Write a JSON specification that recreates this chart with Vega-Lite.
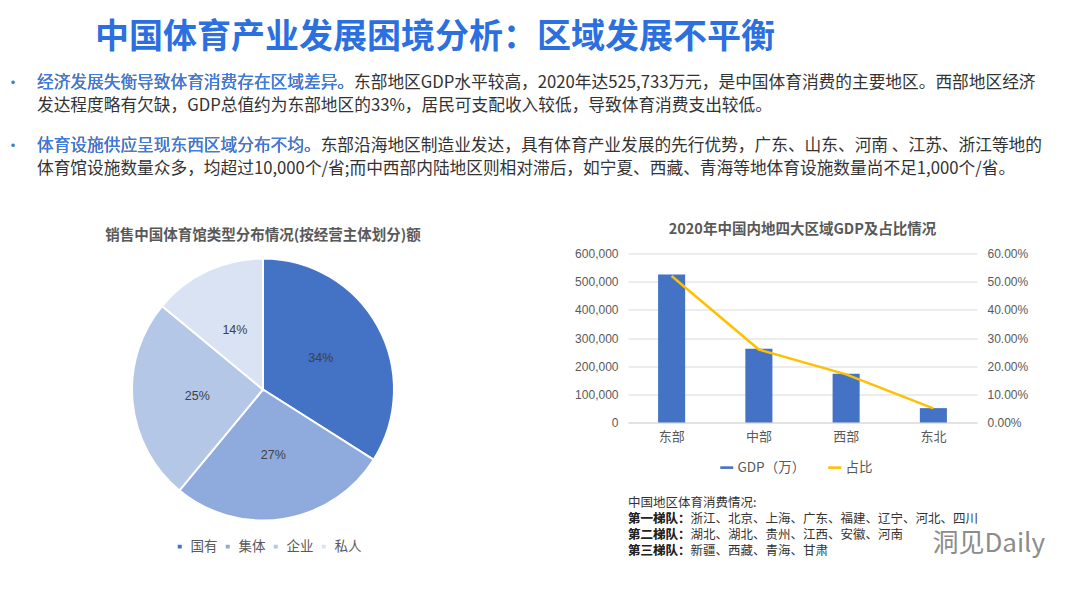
{
  "$schema": "https://vega.github.io/schema/vega-lite/v6.json",
  "background": "white",
  "padding": {"left": 5, "top": 21, "right": 5, "bottom": 5},
  "config": {
    "view": {"stroke": null},
    "font": "Noto Sans CJK SC",
    "axis": {"labelFont": "Liberation Sans", "labelColor": "#595959", "labelFontSize": 12},
    "legend": {"labelFont": "Noto Sans CJK SC", "labelColor": "#595959"}
  },
  "title": {"text": "中国体育产业发展困境分析：区域发展不平衡", "anchor": "start", "dx": 90, "fontSize": 34, "fontWeight": "bold", "color": "#2b6fe0", "font": "Noto Sans CJK SC", "offset": 16},
  "spacing": 41.5,
  "vconcat": [
    {
      "spacing": 17,
      "data": {"values": [
        {"para": 1, "line": 1, "bullet": "•", "lead": "经济发展失衡导致体育消费存在区域差异。", "text": "经济发展失衡导致体育消费存在区域差异。东部地区GDP水平较高，2020年达525,733万元，是中国体育消费的主要地区。西部地区经济"},
        {"para": 1, "line": 2, "bullet": "", "lead": "", "text": "发达程度略有欠缺，GDP总值约为东部地区的33%，居民可支配收入较低，导致体育消费支出较低。"},
        {"para": 2, "line": 1, "bullet": "•", "lead": "体育设施供应呈现东西区域分布不均。", "text": "体育设施供应呈现东西区域分布不均。东部沿海地区制造业发达，具有体育产业发展的先行优势，广东、山东、河南 、江苏、浙江等地的"},
        {"para": 2, "line": 2, "bullet": "", "lead": "", "text": "体育馆设施数量众多，均超过10,000个/省;而中西部内陆地区则相对滞后，如宁夏、西藏、青海等地体育设施数量尚不足1,000个/省。"}
      ]},
      "vconcat": [
        {
          "width": 1065,
          "height": 46,
          "transform": [{"filter": "datum.para == 1"}],
          "encoding": {
            "x": {"datum": 0, "type": "quantitative", "scale": {"domain": [0, 1], "nice": false, "zero": false}, "axis": null},
            "y": {"field": "line", "type": "ordinal", "axis": null, "scale": {"type": "band", "paddingInner": 0, "paddingOuter": 0}}
          },
          "layer": [
            {"mark": {"type": "text", "align": "left", "baseline": "middle", "dx": 32, "fontSize": 16.7, "color": "#333333"}, "encoding": {"text": {"field": "text"}}},
            {"mark": {"type": "text", "align": "left", "baseline": "middle", "dx": 32, "fontSize": 16.7, "color": "#3d7ee6"}, "encoding": {"text": {"field": "lead"}}},
            {"mark": {"type": "text", "align": "left", "baseline": "middle", "fontSize": 16, "color": "#4a78c0"}, "encoding": {"text": {"field": "bullet"}}}
          ]
        },
        {
          "width": 1065,
          "height": 46,
          "transform": [{"filter": "datum.para == 2"}],
          "encoding": {
            "x": {"datum": 0, "type": "quantitative", "scale": {"domain": [0, 1], "nice": false, "zero": false}, "axis": null},
            "y": {"field": "line", "type": "ordinal", "axis": null, "scale": {"type": "band", "paddingInner": 0, "paddingOuter": 0}}
          },
          "layer": [
            {"mark": {"type": "text", "align": "left", "baseline": "middle", "dx": 32, "fontSize": 16.7, "color": "#333333"}, "encoding": {"text": {"field": "text"}}},
            {"mark": {"type": "text", "align": "left", "baseline": "middle", "dx": 32, "fontSize": 16.7, "color": "#3d7ee6"}, "encoding": {"text": {"field": "lead"}}},
            {"mark": {"type": "text", "align": "left", "baseline": "middle", "fontSize": 16, "color": "#4a78c0"}, "encoding": {"text": {"field": "bullet"}}}
          ]
        }
      ]
    },
    {
      "spacing": 53,
      "resolve": {"scale": {"color": "independent"}, "legend": {"color": "independent"}},
      "hconcat": [
        {
          "width": 516,
          "height": 272,
          "title": {"text": "销售中国体育馆类型分布情况(按经营主体划分)额", "fontSize": 14.5, "fontWeight": "bold", "color": "#595959", "offset": 10},
          "data": {"values": [
            {"type": "国有", "share": 0.34, "order": 1},
            {"type": "集体", "share": 0.27, "order": 2},
            {"type": "企业", "share": 0.25, "order": 3},
            {"type": "私人", "share": 0.14, "order": 4}
          ]},
          "encoding": {
            "theta": {"field": "share", "type": "quantitative", "stack": true},
            "order": {"field": "order", "type": "quantitative"},
            "color": {
              "field": "type", "type": "nominal", "sort": ["国有", "集体", "企业", "私人"],
              "scale": {"domain": ["国有", "集体", "企业", "私人"], "range": ["#4472c4", "#8faadc", "#b4c7e7", "#dae3f3"]},
              "legend": {"orient": "none", "legendX": 168, "legendY": 286, "direction": "horizontal", "title": null, "symbolType": "square", "symbolSize": 30, "labelFontSize": 13.5, "columnPadding": 3}
            }
          },
          "layer": [
            {"mark": {"type": "arc", "outerRadius": 131, "stroke": "white", "strokeWidth": 2}},
            {"mark": {"type": "text", "radius": 66, "fontSize": 12.5, "font": "Liberation Sans"}, "encoding": {"text": {"field": "share", "type": "quantitative", "format": ".0%"}, "color": {"value": "#404040"}}}
          ]
        },
        {
          "bounds": "flush",
          "spacing": 72,
          "resolve": {"scale": {"color": "independent"}, "legend": {"color": "independent"}},
          "vconcat": [
            {
              "width": 349,
              "height": 169,
              "title": {"text": "2020年中国内地四大区域GDP及占比情况", "fontSize": 14.5, "fontWeight": "bold", "color": "#595959", "offset": 10},
              "data": {"values": [
                {"region": "东部", "gdp": 525733, "share": 0.52},
                {"region": "中部", "gdp": 262000, "share": 0.259},
                {"region": "西部", "gdp": 173000, "share": 0.171},
                {"region": "东北", "gdp": 51000, "share": 0.05}
              ]},
              "encoding": {
                "x": {"field": "region", "type": "nominal", "sort": null, "scale": {"paddingInner": 0.69, "paddingOuter": 0.345},
                  "axis": {"title": null, "labelAngle": 0, "labelFontSize": 13, "labelPadding": 8, "ticks": false, "domainColor": "#d9d9d9", "labelFont": "Noto Sans CJK SC"}}
              },
              "layer": [
                {
                  "mark": {"type": "bar"},
                  "encoding": {
                    "y": {"field": "gdp", "type": "quantitative", "scale": {"domain": [0, 600000], "nice": false},
                      "axis": {"title": null, "values": [0, 100000, 200000, 300000, 400000, 500000, 600000], "format": ",.0f", "domain": false, "ticks": false, "labelPadding": 10, "gridColor": "#d9d9d9"}},
                    "color": {"datum": "GDP（万）", "type": "nominal",
                      "scale": {"domain": ["GDP（万）", "占比"], "range": ["#4472c4", "#ffc000"]},
                      "legend": {"orient": "none", "legendX": 92, "legendY": 207, "direction": "horizontal", "title": null, "symbolType": "M-1,-0.2H1V0.2H-1Z", "symbolSize": 169, "symbolStrokeWidth": 0, "labelFontSize": 13.5, "columnPadding": 22}}
                  }
                },
                {
                  "mark": {"type": "line", "strokeWidth": 2.5},
                  "encoding": {
                    "y": {"field": "share", "type": "quantitative", "scale": {"domain": [0, 0.6], "nice": false},
                      "axis": {"orient": "right", "title": null, "values": [0, 0.1, 0.2, 0.3, 0.4, 0.5, 0.6], "format": ".2%", "domain": false, "ticks": false, "grid": false, "labelPadding": 10}},
                    "color": {"datum": "占比", "type": "nominal"}
                  }
                }
              ],
              "resolve": {"scale": {"y": "independent"}}
            },
            {
              "width": 417,
              "height": 64,
              "data": {"values": [
                {"line": 1, "head": "", "text": "中国地区体育消费情况:"},
                {"line": 2, "head": "第一梯队：", "text": "第一梯队：浙江、北京、上海、广东、福建、辽宁、河北、四川"},
                {"line": 3, "head": "第二梯队：", "text": "第二梯队：湖北、湖北、贵州、江西、安徽、河南"},
                {"line": 4, "head": "第三梯队：", "text": "第三梯队：新疆、西藏、青海、甘肃"}
              ]},
              "encoding": {
                "x": {"datum": 0, "type": "quantitative", "scale": {"domain": [0, 1], "nice": false, "zero": false}, "axis": null},
                "y": {"field": "line", "type": "ordinal", "axis": null, "scale": {"type": "band", "paddingInner": 0, "paddingOuter": 0}}
              },
              "layer": [
                {"mark": {"type": "text", "align": "left", "baseline": "middle", "fontSize": 12.5, "color": "#333333"}, "encoding": {"text": {"field": "text"}}},
                {"mark": {"type": "text", "align": "left", "baseline": "middle", "fontSize": 12.5, "fontWeight": "bold", "color": "#222222"}, "encoding": {"text": {"field": "head"}}},
                {
                  "data": {"values": [{"line": 3, "wm": "洞见Daily"}]},
                  "mark": {"type": "text", "align": "right", "baseline": "middle", "dy": 9, "fontSize": 26, "color": "#8c8c8c"},
                  "encoding": {"x": {"datum": 1, "type": "quantitative"}, "text": {"field": "wm"}}
                }
              ]
            }
          ]
        }
      ]
    }
  ]
}
